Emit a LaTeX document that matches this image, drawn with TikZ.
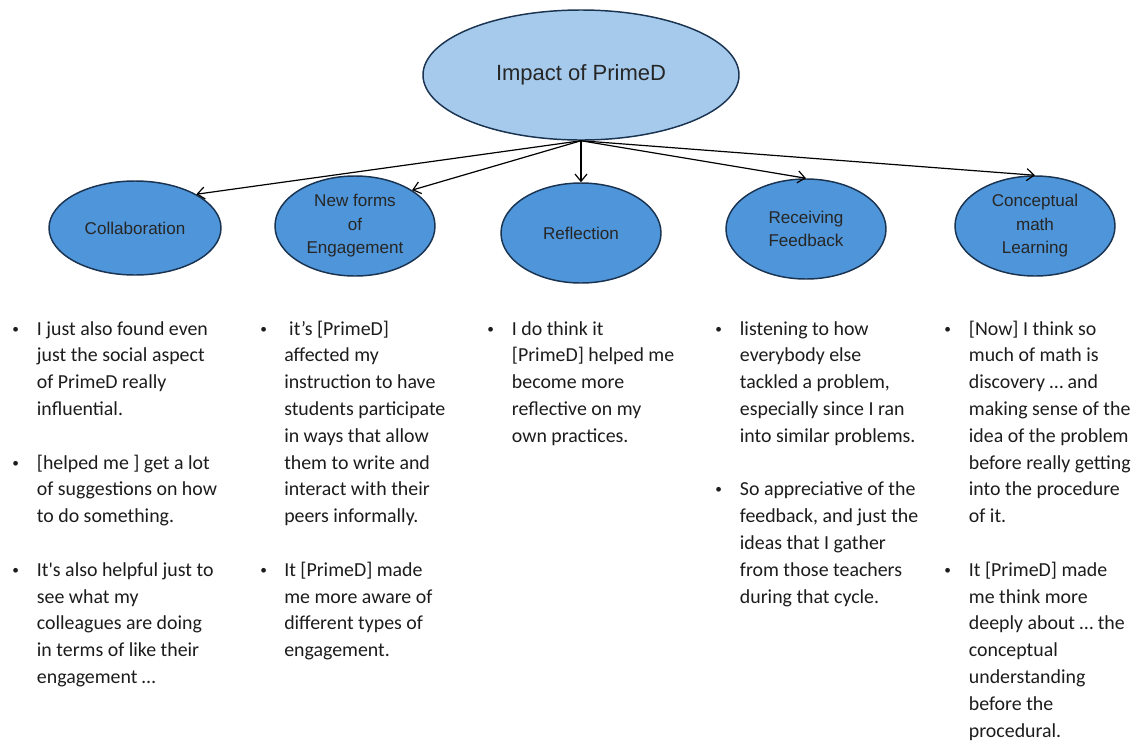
\documentclass[tikz,border=0pt]{standalone}
\usepackage{fontspec}
\setmainfont{Carlito}[Ligatures=TeXOff]
\newfontfamily\labelfont{Liberation Sans}
\usetikzlibrary{arrows.meta, positioning, shapes.geometric}
\definecolor{HubFill}{HTML}{A6CAEC}
\definecolor{ThemeFill}{HTML}{4E95D9}
\definecolor{RimInk}{HTML}{1A3350}
\definecolor{QuoteInk}{HTML}{1C1C1C}
\newcommand{\bul}{\raisebox{0.2ex}{\fontsize{10}{10}\selectfont\textbullet}}

\begin{document}
\begin{tikzpicture}[
    x=0.75pt, y=-0.75pt,
    hub/.style={
      ellipse,
      draw=RimInk,
      line width=1.1pt,
      fill=HubFill,
      inner sep=0pt,
      minimum width=237pt,
      minimum height=97.5pt,
      text=black!85,
      font=\labelfont\fontsize{16.5}{19}\selectfont,
    },
    theme/.style={
      ellipse,
      draw=RimInk,
      line width=1.1pt,
      fill=ThemeFill,
      inner sep=0pt,
      minimum width=120pt,
      minimum height=75pt,
      align=center,
      text=black!85,
      font=\labelfont\fontsize{12.8}{17.6}\selectfont,
    },
    quotes/.style={
      anchor=base west,
      inner sep=0pt,
      text=QuoteInk,
      font=\fontsize{14.9}{20.1}\selectfont,
    },
    link/.style={
      -{Straight Barb[length=5.5pt,width=9pt]},
      line width=0.9pt,
      black,
    },
  ]
    \useasboundingbox (0,0) rectangle (1143,740);

    \node[hub] (hub) at (581,75) {Impact of PrimeD};

    \node[theme, minimum width=129pt, minimum height=70.5pt]
      (collab) at (135,228) {Collaboration};
    \node[theme] (engage) at (355,226) {New forms\\of\\Engagement};
    \node[theme] (reflect) at (581,233) {Reflection};
    \node[theme] (feedback) at (806,229) {Receiving\\Feedback};
    \node[theme] (concept) at (1035,226) {Conceptual\\math\\Learning};

    \draw[link] (hub.south) -- (collab.north east);
    \draw[link] (hub.south) -- (engage.north east);
    \draw[link] (hub.south) -- (reflect.north);
    \draw[link] (hub.south) -- (feedback.north);
    \draw[link] (hub.south) -- (concept.north);

    % quotes under each theme
    \node[quotes] (q1) at (12,335) {%
      \begin{tabular}[t]{@{}p{18.5pt}@{}l@{}}
        \bul & I just also found even\\
             & just the social aspect\\
             & of PrimeD really\\
             & influential.\\
             & \\
        \bul & [helped me ] get a lot\\
             & of suggestions on how\\
             & to do something.\\
             & \\
        \bul & It's also helpful just to\\
             & see what my\\
             & colleagues are doing\\
             & in terms of like their\\
             & engagement …
      \end{tabular}};

    \node[quotes] (q2) at (260,335) {%
      \begin{tabular}[t]{@{}p{18pt}@{}l@{}}
        \bul & \hspace*{0.25em}it’s [PrimeD]\\
             & affected my\\
             & instruction to have\\
             & students participate\\
             & in ways that allow\\
             & them to write and\\
             & interact with their\\
             & peers informally.\\
             & \\
        \bul & It [PrimeD] made\\
             & me more aware of\\
             & different types of\\
             & engagement.
      \end{tabular}};

    \node[quotes] (q3) at (487,335) {%
      \begin{tabular}[t]{@{}p{18.5pt}@{}l@{}}
        \bul & I do think it\\
             & [PrimeD] helped me\\
             & become more\\
             & reflective on my\\
             & own practices.
      \end{tabular}};

    \node[quotes] (q4) at (715,335) {%
      \begin{tabular}[t]{@{}p{18.5pt}@{}l@{}}
        \bul & listening to how\\
             & everybody else\\
             & tackled a problem,\\
             & especially since I ran\\
             & into similar problems.\\
             & \\
        \bul & So appreciative of the\\
             & feedback, and just the\\
             & ideas that I gather\\
             & from those teachers\\
             & during that cycle.
      \end{tabular}};

    \node[quotes] (q5) at (944,335) {%
      \begin{tabular}[t]{@{}p{18.5pt}@{}l@{}}
        \bul & [Now] I think so\\
             & much of math is\\
             & discovery … and\\
             & making sense of the\\
             & idea of the problem\\
             & before really getting\\
             & into the procedure\\
             & of it.\\
             & \\
        \bul & It [PrimeD] made\\
             & me think more\\
             & deeply about … the\\
             & conceptual\\
             & understanding\\
             & before the\\
             & procedural.
      \end{tabular}};
  \end{tikzpicture}
\end{document}
